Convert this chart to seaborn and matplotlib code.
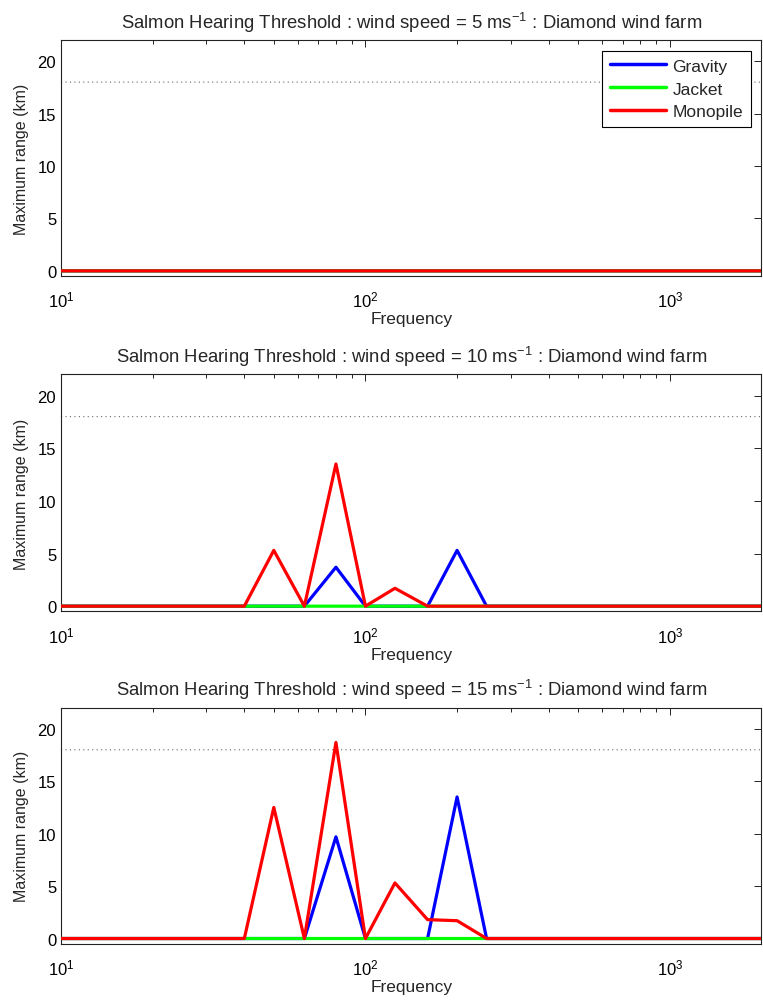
import numpy as np
import pandas as pd
import matplotlib
matplotlib.use("Agg")
import matplotlib.pyplot as plt
import seaborn as sns
from matplotlib.ticker import LogLocator, NullFormatter

sns.set_theme(style="white")
plt.rcParams['font.family'] = ['Liberation Sans', 'DejaVu Sans']

# third-octave band centre frequencies (Hz)
freqs = [10, 12.5, 16, 20, 25, 31.5, 40, 50, 63, 80, 100, 125, 160, 200,
         250, 315, 400, 500, 630, 800, 1000, 1250, 1600, 2000]

wind_speeds = [5, 10, 15]

# maximum range (km) per foundation type, one list per wind speed
gravity_5 = [0] * 24
jacket_5 = [0] * 24
monopile_5 = [0] * 24

gravity_10 = [0, 0, 0, 0, 0, 0, 0, 0, 0, 3.7, 0, 0, 0, 5.3, 0, 0, 0, 0, 0, 0, 0, 0, 0, 0]
jacket_10 = [0] * 24
monopile_10 = [0, 0, 0, 0, 0, 0, 0, 5.3, 0, 13.5, 0, 1.7, 0, 0, 0, 0, 0, 0, 0, 0, 0, 0, 0, 0]

gravity_15 = [0, 0, 0, 0, 0, 0, 0, 0, 0, 9.7, 0, 0, 0, 13.5, 0, 0, 0, 0, 0, 0, 0, 0, 0, 0]
jacket_15 = [0] * 24
monopile_15 = [0, 0, 0, 0, 0, 0, 0, 12.5, 0, 18.7, 0, 5.3, 1.8, 1.7, 0, 0, 0, 0, 0, 0, 0, 0, 0, 0]

threshold_range = 18

series = {
    5: (gravity_5, jacket_5, monopile_5),
    10: (gravity_10, jacket_10, monopile_10),
    15: (gravity_15, jacket_15, monopile_15),
}
palette = {"Gravity": "#0000ff", "Jacket": "#00ff00", "Monopile": "#ff0000"}

fig = plt.figure(figsize=(7.63, 10.04), dpi=100)
positions = [(0.080, 0.724, 0.918, 0.235),
             (0.080, 0.390, 0.918, 0.236),
             (0.080, 0.059, 0.918, 0.235)]

for i, ws in enumerate(wind_speeds):
    ax = fig.add_axes(positions[i])
    g, j, m = series[ws]
    df = pd.DataFrame({
        "Frequency": freqs * 3,
        "Range": g + j + m,
        "Type": ["Gravity"] * 24 + ["Jacket"] * 24 + ["Monopile"] * 24,
    })
    ax.axhline(threshold_range, color="#666666", ls=(0, (1, 3)), lw=0.8, zorder=1)
    sns.lineplot(data=df, x="Frequency", y="Range", hue="Type", palette=palette,
                 lw=2.3, ax=ax, legend=(i == 0), zorder=3)
    for ln in ax.get_lines():
        ln.set_snap(False)
    ax.set_xscale("log")
    ax.set_xlim(10, 2000)
    ax.set_ylim(-0.5, 22)
    ax.set_yticks([0, 5, 10, 15, 20])
    ax.xaxis.set_major_locator(LogLocator(base=10))
    ax.xaxis.set_minor_locator(LogLocator(base=10, subs=np.arange(2, 10)))
    ax.xaxis.set_minor_formatter(NullFormatter())
    ax.tick_params(which="both", direction="in", top=True, right=True,
                   labelsize=12, colors="black")
    ax.tick_params(which="major", length=5, width=0.6)
    ax.tick_params(which="minor", length=3, width=0.6)
    ax.tick_params(axis="x", pad=10)
    for s in ax.spines.values():
        s.set_color("#222222")
        s.set_linewidth(0.8)
    ax.set_xlabel("Frequency", fontsize=12.5, labelpad=1)
    ax.set_ylabel("Maximum range (km)", fontsize=11.5, labelpad=6)
    ax.set_title(r"Salmon Hearing Threshold : wind speed = %d ms$^{\mathregular{-1}}$ : Diamond wind farm" % ws,
                 fontsize=13.3, pad=9)
    if i == 0:
        leg = ax.legend(loc="upper right", fontsize=12.5, frameon=True, fancybox=False,
                        edgecolor="black", framealpha=1, handlelength=3.2,
                        handletextpad=0.4, borderaxespad=0.6, labelspacing=0.45,
                        borderpad=0.45)
        leg.get_frame().set_linewidth(0.8)
        for h in leg.get_lines():
            h.set_linewidth(2.5)

fig.savefig("out.png", dpi=100)
